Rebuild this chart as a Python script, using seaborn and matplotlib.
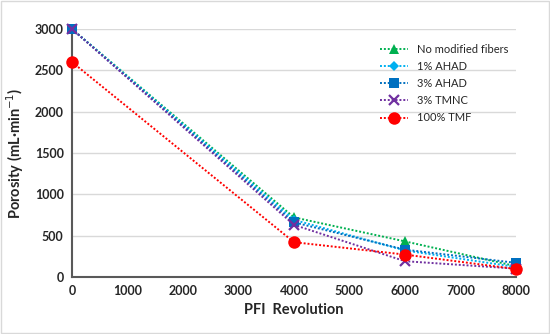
import pandas as pd
import matplotlib.pyplot as plt
import seaborn as sns

# Values
revolutions = [0, 4000, 6000, 8000]
series_names = ["No modified fibers", "1% AHAD", "3% AHAD", "3% TMNC", "100% TMF"]
no_modified = [3000, 720, 430, 130]
ahad_1 = [3000, 690, 320, 120]
ahad_3 = [3000, 660, 330, 170]
tmnc_3 = [3000, 630, 190, 100]
tmf_100 = [2600, 420, 270, 95]

colors = ["#00B050", "#00B0F0", "#0070C0", "#7030A0", "#FF0000"]
marker_list = ["^", "D", "s", "x", "o"]
marker_sizes = [7, 5, 7, 7, 9]

values = [no_modified, ahad_1, ahad_3, tmnc_3, tmf_100]
rows = []
for name, vals in zip(series_names, values):
    for r, v in zip(revolutions, vals):
        rows.append({"rev": r, "porosity": v, "series": name})
df = pd.DataFrame(rows)

sns.set_style("white")
plt.rcParams["font.family"] = ["Lato", "DejaVu Sans"]

fig = plt.figure(figsize=(5.5, 3.34), dpi=100)
ax = fig.add_axes([0.131, 0.171, 0.807, 0.742])

for name, c, m, ms in zip(series_names, colors, marker_list, marker_sizes):
    sub = df[df["series"] == name]
    sns.lineplot(data=sub, x="rev", y="porosity", ax=ax, color=c, label=name,
                 linestyle=(0, (1, 1)), linewidth=1.4, marker=m, markersize=ms,
                 markeredgewidth=0 if m != "x" else 1.6, markeredgecolor=c,
                 clip_on=False, zorder=3)

ax.set_xlim(0, 8000)
ax.set_ylim(0, 3000)
ax.set_xticks(range(0, 8001, 1000))
ax.set_yticks(range(0, 3001, 500))
ax.yaxis.grid(True, color="#D9D9D9", linewidth=1)
ax.xaxis.grid(False)
for s in ["top", "right"]:
    ax.spines[s].set_visible(False)
for s in ["left", "bottom"]:
    ax.spines[s].set_color("#595959")
    ax.spines[s].set_linewidth(1.5)
ax.tick_params(axis="both", length=0, labelsize=9, pad=6)
for lab in ax.get_xticklabels() + ax.get_yticklabels():
    lab.set_fontweight("bold")
    lab.set_color("#262626")

ax.set_xlabel("PFI  Revolution", fontsize=10.5, fontweight="bold", color="#262626", labelpad=4)
ax.set_ylabel("Porosity (mL·min$^{-1}$)", fontsize=10.5, fontweight="bold", color="#262626", labelpad=6)

leg = ax.legend(loc="upper right", bbox_to_anchor=(1.005, 0.98), frameon=False,
                fontsize=8, handlelength=2.5, labelspacing=0.55)
for t in leg.get_texts():
    t.set_color("#262626")

fig.patches.append(plt.Rectangle((0.002, 0.003), 0.996, 0.994, transform=fig.transFigure,
                                 fill=False, edgecolor="#D9D9D9", linewidth=1))

fig.savefig("out.png", dpi=100)
